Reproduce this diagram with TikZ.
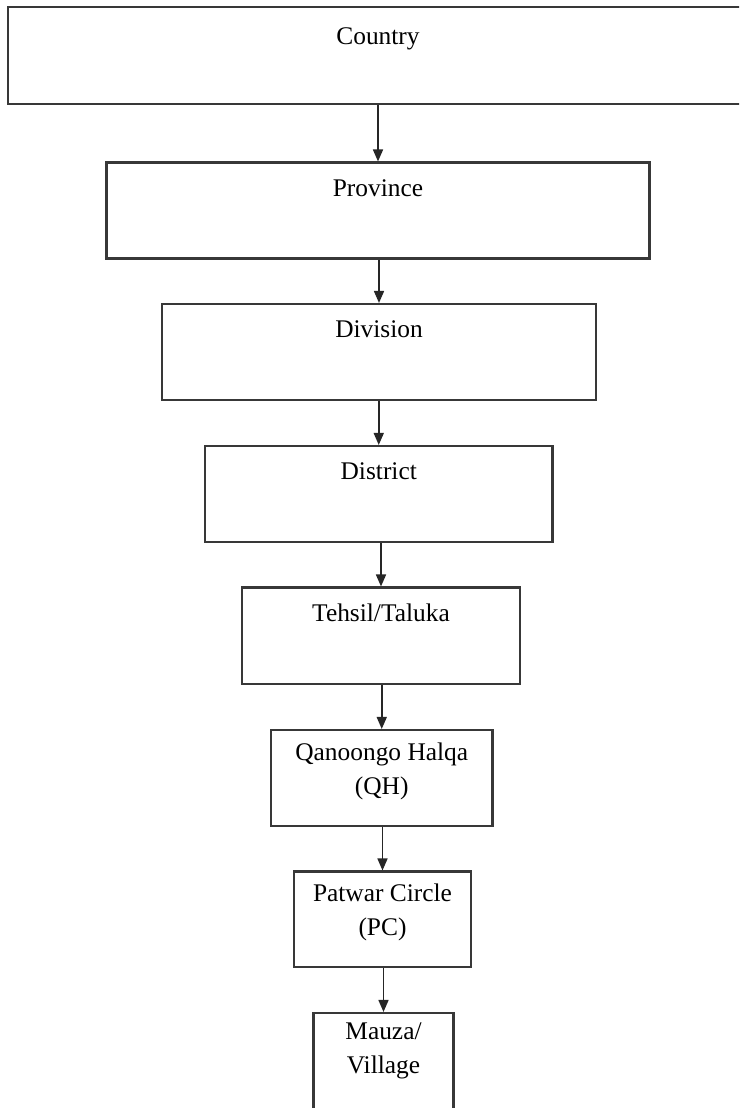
\documentclass[tikz,border=0pt]{standalone}
\usepackage{fontspec}
\setmainfont{Liberation Serif}
\usetikzlibrary{arrows.meta}
\tikzset{
  box/.style={draw=black!78, line width=2.1pt, rectangle, inner sep=0pt, fill=white},
  lbl/.style={anchor=base, inner sep=0pt, font=\fontsize{25.4}{34}\selectfont},
  conn/.style={draw=black!85, line width=1.6pt, -{Triangle[length=12pt,width=10pt]}}
}
\newcommand{\twoline}[2]{\begin{tabular}[t]{@{}c@{}}#1\\#2\end{tabular}}
\begin{document}
\begin{tikzpicture}[x=1pt,y=-1pt]
\useasboundingbox (0,0) rectangle (739,1108);
\clip (0,0) rectangle (739,1108);
\fill[white] (0,0) rectangle (739,1108);
% boxes
\node[box, minimum width=740pt, minimum height=97pt] (country) at (378,55.5) {};
\node[box, minimum width=543pt, minimum height=96pt] (province) at (378,210.5) {};
\node[box, minimum width=434pt, minimum height=96pt] (division) at (379,352) {};
\node[box, minimum width=347.5pt, minimum height=96pt] (district) at (378.75,494) {};
\node[box, minimum width=278pt, minimum height=96.5pt] (tehsil) at (381,635.75) {};
\node[box, minimum width=221.5pt, minimum height=96pt] (qh) at (381.75,778) {};
\node[box, minimum width=177pt, minimum height=95.5pt] (pc) at (382.5,919.25) {};
\node[box, minimum width=140pt, minimum height=97pt] (mauza) at (383.5,1061.5) {};
% labels
\node[lbl] (tcountry) at ([yshift=-39pt]country.north) {Country};
\node[lbl] (tprovince) at ([yshift=-35pt]province.north) {Province};
\node[lbl] (tdivision) at ([yshift=-35pt]division.north) {Division};
\node[lbl] (tdistrict) at ([yshift=-35pt]district.north) {District};
\node[lbl] (ttehsil) at ([yshift=-35pt]tehsil.north) {Tehsil/Taluka};
\node[lbl] (tqh) at ([yshift=-32pt]qh.north) {\twoline{Qanoongo Halqa}{(QH)}};
\node[lbl] (tpc) at ([yshift=-31pt]pc.north) {\twoline{Patwar Circle}{(PC)}};
\node[lbl] (tmauza) at ([yshift=-28pt]mauza.north) {\twoline{Mauza/}{Village}};
% connectors
\draw[conn] (province.north |- country.south) -- (province.north);
\draw[conn] (division.north |- province.south) -- (division.north);
\draw[conn] (district.north |- division.south) -- (district.north);
\draw[conn] (tehsil.north |- district.south) -- (tehsil.north);
\draw[conn] (qh.north |- tehsil.south) -- (qh.north);
\draw[conn] (pc.north |- qh.south) -- (pc.north);
\draw[conn] (mauza.north |- pc.south) -- (mauza.north);
\end{tikzpicture}
\end{document}
